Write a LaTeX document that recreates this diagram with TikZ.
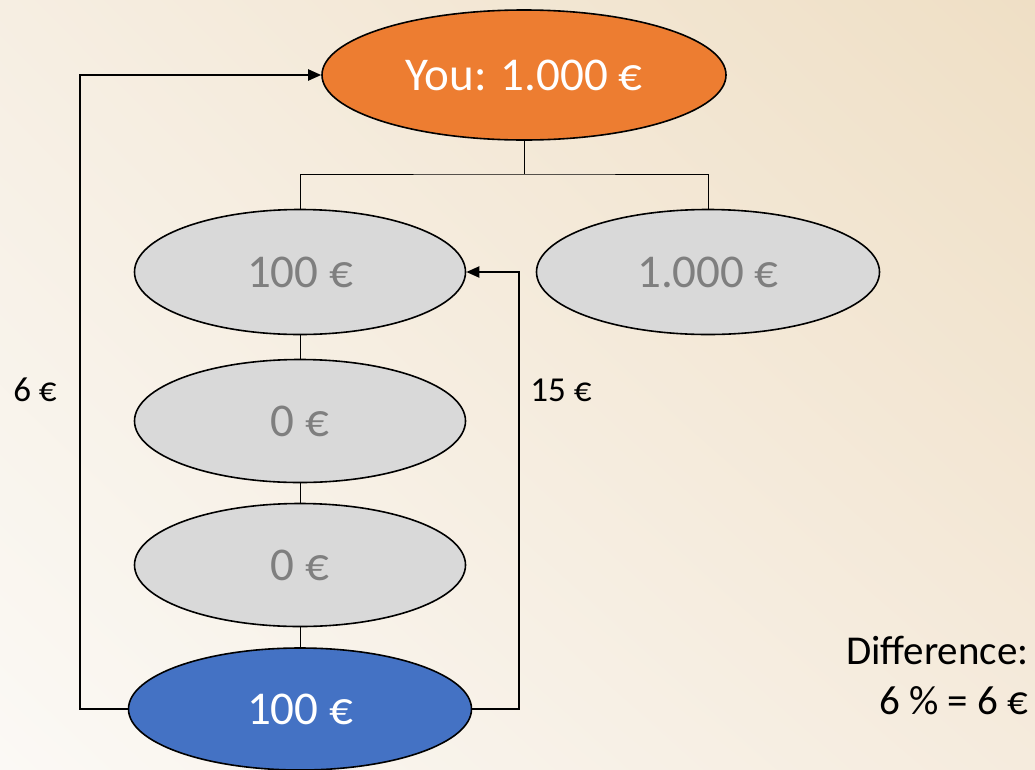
\documentclass[tikz,border=0pt]{standalone}
\usepackage{fontspec}
\setmainfont{Carlito}
\usetikzlibrary{shapes.geometric,arrows.meta,shadings}
\definecolor{bgTR}{HTML}{EFDFC5}
\definecolor{bgBL}{HTML}{FBF9F5}
\definecolor{bgTL}{HTML}{F6EEE2}
\definecolor{bgBR}{HTML}{F5EBDD}
\definecolor{orangeF}{HTML}{ED7D31}
\definecolor{blueF}{HTML}{4472C4}
\definecolor{greyF}{HTML}{D9D9D9}
\definecolor{greyT}{HTML}{7F7F7F}
\tikzset{
  oval/.style={ellipse, draw=black, line width=1.6pt, inner sep=0pt, font=\fontsize{47}{52}\selectfont},
  greyoval/.style={oval, fill=greyF, text=greyT},
  tree/.style={draw=black, line width=0.8pt},
  flow/.style={draw=black, line width=2pt, -{Triangle[length=13pt,width=11pt]}},
  lbl/.style={font=\fontsize{35}{40}\selectfont, text=black},
}
\begin{document}
\begin{tikzpicture}[x=1pt,y=-1pt]
\shade[upper left=bgTL, upper right=bgTR, lower left=bgBL, lower right=bgBR] (0,0) rectangle (1035,769);
\useasboundingbox (0,0) rectangle (1035,769);

\node[oval, fill=orangeF, text=white, minimum width=404pt, minimum height=130pt] (you) at (524,75) {You: 1.000 €};
\node[greyoval, minimum width=331pt, minimum height=125pt] (a) at (300,272) {100 €};
\node[greyoval, minimum width=343pt, minimum height=125pt] (b) at (708,272) {1.000 €};
\node[greyoval, minimum width=331pt, minimum height=123pt] (c) at (300,421) {0 €};
\node[greyoval, minimum width=331pt, minimum height=123pt] (d) at (300,565) {0 €};
\node[oval, fill=blueF, text=white, minimum width=343pt, minimum height=122pt] (e) at (300,709) {100 €};

\coordinate (j) at (524,174);
\draw[tree] (you.south) -- (j);
\draw[tree] (a.north) |- (j) -| (b.north);
\draw[tree] (a.south) -- (c.north);
\draw[tree] (c.south) -- (d.north);
\draw[tree] (d.south) -- (e.north);

\coordinate (lc) at (80,709);
\coordinate (rc) at (519,709);
\draw[flow] (e.west) -- (lc) |- (you.west);
\draw[flow] (e.east) -- (rc) |- (a.east);

\node[lbl] (l6) at (35,390) {6 €};
\node[lbl] (l15) at (561,390) {15 €};
\node[font=\fontsize{41}{50}\selectfont, align=right, anchor=east] (diff) at (1032,675) {Difference:\\6 \% = 6 €};
\end{tikzpicture}
\end{document}
